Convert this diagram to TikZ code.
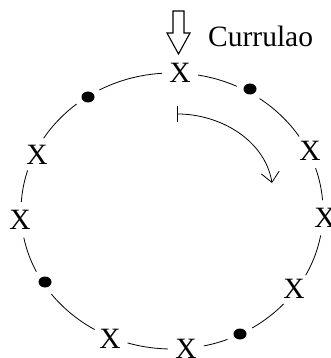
\documentclass[tikz,border=0pt]{standalone}
\usepackage{fontspec}
\setmainfont{Liberation Serif}
\usetikzlibrary{arrows.meta}
\begin{document}
\begin{tikzpicture}[x=1pt,y=-1pt,
  ring/.style={line width=0.8pt, black},
  xmark/.style={circle, fill=white, inner sep=0pt, minimum size=36pt, font=\fontsize{29.5}{32}\selectfont},
  dotmark/.style={circle, fill=white, inner sep=0pt, minimum size=27pt,
    path picture={\fill[black] (path picture bounding box.center) ellipse [x radius=6.5pt, y radius=5.5pt];}},
  turn/.style={line width=0.8pt, {Bar[width=16pt]}-{Straight Barb[length=10pt,width=18pt]}},
  bigarrow/.style={line width=1.1pt, draw=black, fill=white},
  lbl/.style={font=\fontsize{29.5}{32}\selectfont, inner sep=0pt, anchor=base west}]
\useasboundingbox (0,0) rectangle (331,358);
\coordinate (c) at (172,211);
\draw[ring] (c) ellipse [x radius=151, y radius=138];
% markers on the circle
\node[xmark] (xt) at (180,73) {X};
\node[dotmark] (dtr) at (250,89) {};
\node[xmark] (xr1) at (310,151) {X};
\node[xmark] (xr2) at (325,218) {X};
\node[xmark] (xr3) at (294,289) {X};
\node[dotmark] (dbr) at (240,334) {};
\node[xmark] (xb2) at (186,349) {X};
\node[xmark] (xb1) at (110,339) {X};
\node[dotmark] (dbl) at (45,282) {};
\node[xmark] (xl2) at (20,220) {X};
\node[xmark] (xl1) at (37,155) {X};
\node[dotmark] (dtl) at (88,97) {};
% rotation arrow
\coordinate (s) at (177,114);
\coordinate (e) at (272,183);
\draw[turn] (s) .. controls (220,114) and (265,140) .. (e);
% big open arrow pointing at the top X
\draw[bigarrow] (173,11) -- (184,11) -- (184,33) -- (190,33) -- (178.5,54) -- (167,33) -- (173,33) -- cycle;
\node[lbl] (cur) at (208,47) {Currulao};
\end{tikzpicture}
\end{document}
